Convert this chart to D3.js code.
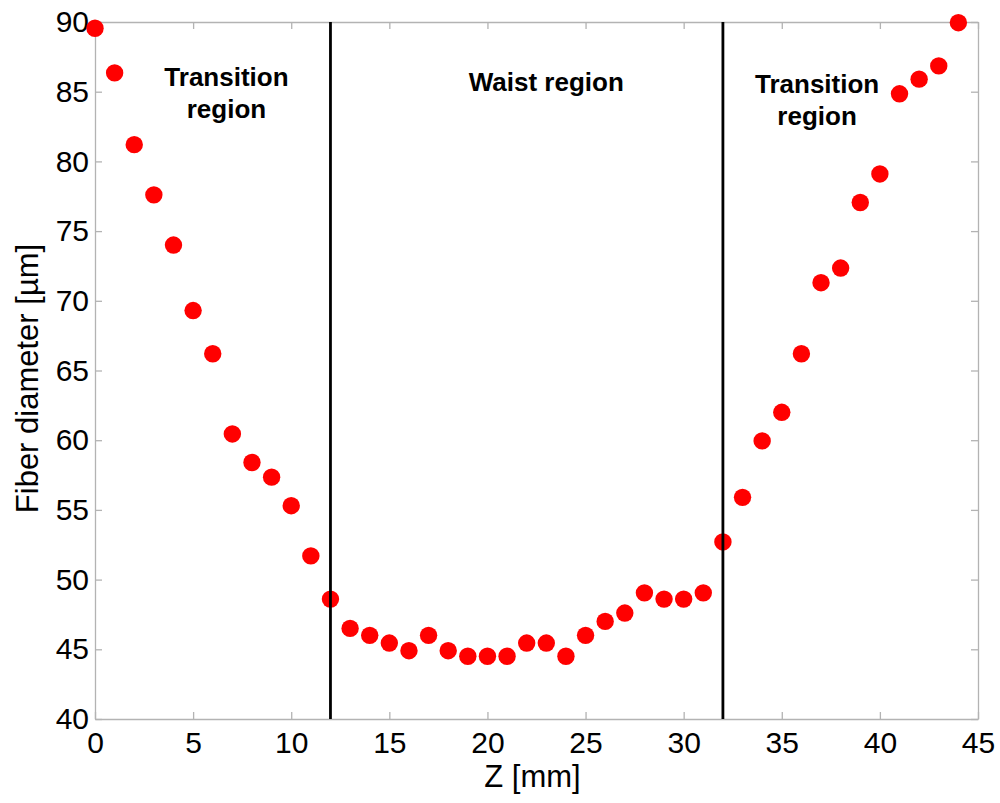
<!DOCTYPE html>
<html>
<head>
<meta charset="utf-8">
<script src="https://cdn.jsdelivr.net/npm/d3@7"></script>
<style>
  body { margin: 0; background: #fff; }
  svg { display: block; font-family: "Liberation Sans", Arial, sans-serif; }
</style>
</head>
<body>
<div id="vis_canvas"></div>
<script>
// data
var zPos = [0, 1, 2, 3, 4, 5, 6, 7, 8, 9, 10, 11, 12, 13, 14, 15, 16, 17, 18, 19, 20, 21,
            22, 23, 24, 25, 26, 27, 28, 29, 30, 31, 32, 33, 34, 35, 36, 37, 38, 39, 40, 41, 42, 43, 44];
var diameter = [89.55, 86.35, 81.2, 77.6, 74.0, 69.3, 66.2, 60.45, 58.4, 57.35, 55.3, 51.7,
                48.6, 46.5, 46.0, 45.45, 44.9, 46.0, 44.9, 44.5, 44.5, 44.5, 45.45, 45.45, 44.5,
                46.0, 47.0, 47.6, 49.05, 48.6, 48.6, 49.05, 52.7, 55.9, 59.95, 62.0, 66.2,
                71.3, 72.35, 77.05, 79.1, 84.85, 85.9, 86.85, 89.95];
var boundaries = [12, 32];
var xTicks = [0, 5, 10, 15, 20, 25, 30, 35, 40, 45];
var yTicks = [40, 45, 50, 55, 60, 65, 70, 75, 80, 85, 90];
var regionNames = [["Transition", "region"], ["Waist region"], ["Transition", "region"]];
var regionAt = [6.7, 23, 36.8];   // z where each label is centred

var W = 1000, H = 803;
var margin = {left: 95, top: 22, right: 22, bottom: 84};
var w = W - margin.left - margin.right,
    h = H - margin.top - margin.bottom;

var svg = d3.select("#vis_canvas").append("svg")
    .attr("width", W).attr("height", H);
var g = svg.append("g").attr("transform", "translate(" + margin.left + "," + margin.top + ")");

var x = d3.scaleLinear().domain([0, 45]).range([0, w]);
var y = d3.scaleLinear().domain([40, 90]).range([h, 0]);

var axisGrey = "#b3b3b3";

// box + inward ticks on all four sides
g.append("g").attr("transform", "translate(0," + h + ")")
  .call(d3.axisBottom(x).tickValues(xTicks).tickSizeInner(-7).tickSizeOuter(0))
  .call(function(a) {
    a.selectAll("text").attr("y", 13).attr("dy", "0.71em");
  });
g.append("g")
  .call(d3.axisTop(x).tickValues(xTicks).tickSizeInner(-7).tickSizeOuter(0).tickFormat(""));
g.append("g")
  .call(d3.axisLeft(y).tickValues(yTicks).tickSizeInner(-7).tickSizeOuter(0))
  .call(function(a) {
    a.selectAll("text").attr("x", -6);
  });
g.append("g").attr("transform", "translate(" + w + ",0)")
  .call(d3.axisRight(y).tickValues(yTicks).tickSizeInner(-7).tickSizeOuter(0).tickFormat(""));

g.selectAll(".domain, .tick line").attr("stroke", axisGrey).attr("stroke-width", 1.3);
g.selectAll(".tick text").attr("fill", "#000").style("font-size", "30px");

// points
g.selectAll(".pt").data(zPos)
  .enter().append("circle")
  .attr("class", "pt")
  .attr("cx", function(d) { return x(d); })
  .attr("cy", function(d, i) { return y(diameter[i]); })
  .attr("r", 8.7)
  .attr("fill", "#ff0000");

// region boundaries
g.selectAll(".bound").data(boundaries)
  .enter().append("line")
  .attr("class", "bound")
  .attr("x1", function(d) { return x(d); })
  .attr("x2", function(d) { return x(d); })
  .attr("y1", 0).attr("y2", h)
  .attr("stroke", "#000").attr("stroke-width", 2.8);

// region labels
var baseY = [64, 69, 71];
regionNames.forEach(function(lines, i) {
  var t = g.append("text")
    .attr("x", x(regionAt[i]))
    .attr("y", baseY[i])
    .attr("text-anchor", "middle")
    .style("font-weight", "bold")
    .style("font-size", "26px");
  lines.forEach(function(s, j) {
    t.append("tspan").attr("x", x(regionAt[i])).attr("dy", j === 0 ? 0 : 32).text(s);
  });
});

// axis titles
svg.append("text")
  .attr("x", margin.left + w / 2 - 4).attr("y", 787)
  .attr("text-anchor", "middle")
  .style("font-size", "31px")
  .text("Z [mm]");

svg.append("text")
  .attr("transform", "translate(38," + (margin.top + h / 2 + 8) + ") rotate(-90)")
  .attr("text-anchor", "middle")
  .style("font-size", "31px")
  .text("Fiber diameter [\u00b5m]");
</script>
</body>
</html>
